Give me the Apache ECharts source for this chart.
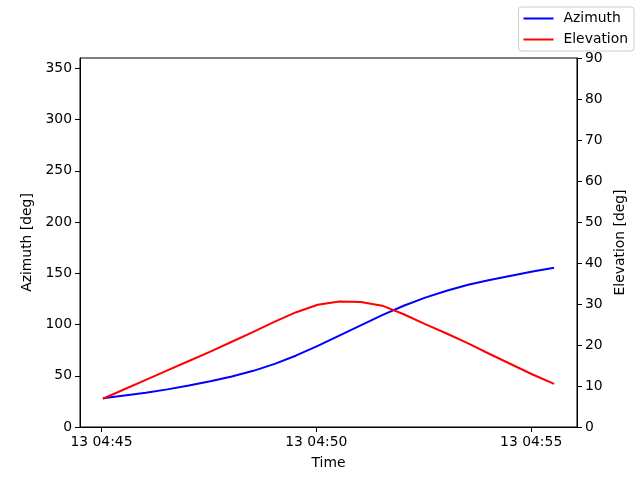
<!DOCTYPE html>
<html><head><meta charset="utf-8">
<script src="https://cdn.jsdelivr.net/npm/echarts@6/dist/echarts.min.js"></script>
<style>html,body{margin:0;padding:0;background:#fff}#c{width:640px;height:480px}</style>
</head><body><div id="c"></div>
<script>
// ---- data ----
const times = ['04:45:02','04:45:32','04:46:02','04:46:32','04:47:02','04:47:32','04:48:02','04:48:32',
  '04:49:02','04:49:32','04:50:02','04:50:32','04:51:02','04:51:32','04:52:02','04:52:32',
  '04:53:02','04:53:32','04:54:02','04:54:32','04:55:02','04:55:32'];
const azimuth = [28.0, 30.8, 33.5, 36.7, 40.4, 44.6, 49.2, 54.8, 61.6, 69.8, 79.2, 89.2,
  99.2, 109.2, 118.3, 126.2, 132.9, 138.7, 143.4, 147.6, 151.7, 155.4];
const elevation = [6.9, 9.2, 11.5, 13.8, 16.1, 18.4, 20.8, 23.2, 25.7, 28.0, 29.8, 30.6,
  30.5, 29.6, 27.5, 25.1, 22.8, 20.4, 17.8, 15.3, 12.8, 10.5];
const xTickTimes = ['04:45:00','04:50:00','04:55:00'];
const xTickLabels = ['13 04:45','13 04:50','13 04:55'];
const xRange = ['04:44:30','04:56:04'];
const azTicks = [0,50,100,150,200,250,300,350];
const azRange = [0,360];
const elRange = [0,90];

function toMs(s){const p=s.split(':').map(Number);return Date.UTC(2024,0,13,p[0],p[1],p[2]);}
const xTickMs = xTickTimes.map(toMs);

const FONT = 'DejaVu Sans';
const FS = 13.9;
const black = '#000';

const chart = echarts.init(document.getElementById('c'), null, {renderer:'canvas'});
chart.setOption({
  animation:false,
  backgroundColor:'#fff',
  textStyle:{fontFamily:FONT, color:black},
  grid:{left:80, right:63, top:58, bottom:53, show:true, borderColor:black, borderWidth:1, backgroundColor:'transparent'},
  legend:{
    orient:'vertical', right:6, top:7,
    padding:[3,6,3,5],
    icon:'rect',
    itemWidth:30, itemHeight:2, itemGap:4,
    borderColor:'#cccccc', borderWidth:1, borderRadius:3,
    backgroundColor:'rgba(255,255,255,0.8)',
    textStyle:{fontFamily:FONT, fontSize:FS, color:black, padding:[0,0,0,5], lineHeight:17},
    data:['Azimuth','Elevation']
  },
  xAxis:{
    type:'value',
    min:toMs(xRange[0]), max:toMs(xRange[1]),
    name:'Time', nameLocation:'middle', nameGap:29,
    nameTextStyle:{fontFamily:FONT, fontSize:FS, color:black},
    axisLine:{show:true, lineStyle:{color:black, width:1}},
    axisTick:{show:true, length:5, lineStyle:{color:black}, customValues:xTickMs},
    axisLabel:{fontFamily:FONT, fontSize:FS, color:black, margin:8, customValues:xTickMs,
      formatter:function(v){const i=xTickMs.indexOf(v);return i>=0?xTickLabels[i]:'';}},
    splitLine:{show:false}
  },
  yAxis:[{
    type:'value', position:'left', min:azRange[0], max:azRange[1],
    name:'Azimuth [deg]', nameLocation:'middle', nameRotate:90, nameGap:41,
    nameTextStyle:{fontFamily:FONT, fontSize:FS, color:black},
    axisLine:{show:true, lineStyle:{color:black, width:1}},
    axisTick:{show:true, length:5, lineStyle:{color:black}, customValues:azTicks},
    axisLabel:{fontFamily:FONT, fontSize:FS, color:black, margin:8, customValues:azTicks},
    splitLine:{show:false}
  },{
    type:'value', position:'right', min:elRange[0], max:elRange[1], interval:10,
    name:'Elevation [deg]', nameLocation:'middle', nameRotate:90, nameGap:33,
    nameTextStyle:{fontFamily:FONT, fontSize:FS, color:black},
    axisLine:{show:true, lineStyle:{color:black, width:1}},
    axisTick:{show:true, length:5, lineStyle:{color:black}},
    axisLabel:{fontFamily:FONT, fontSize:FS, color:black, margin:8},
    splitLine:{show:false}
  }],
  series:[{
    name:'Azimuth', type:'line', yAxisIndex:0, showSymbol:false, symbol:'none',
    lineStyle:{color:'#0000ff', width:2}, itemStyle:{color:'#0000ff'},
    data:times.map((t,i)=>[toMs(t), azimuth[i]])
  },{
    name:'Elevation', type:'line', yAxisIndex:1, showSymbol:false, symbol:'none',
    lineStyle:{color:'#ff0000', width:2}, itemStyle:{color:'#ff0000'},
    data:times.map((t,i)=>[toMs(t), elevation[i]])
  }]
});
</script></body></html>
